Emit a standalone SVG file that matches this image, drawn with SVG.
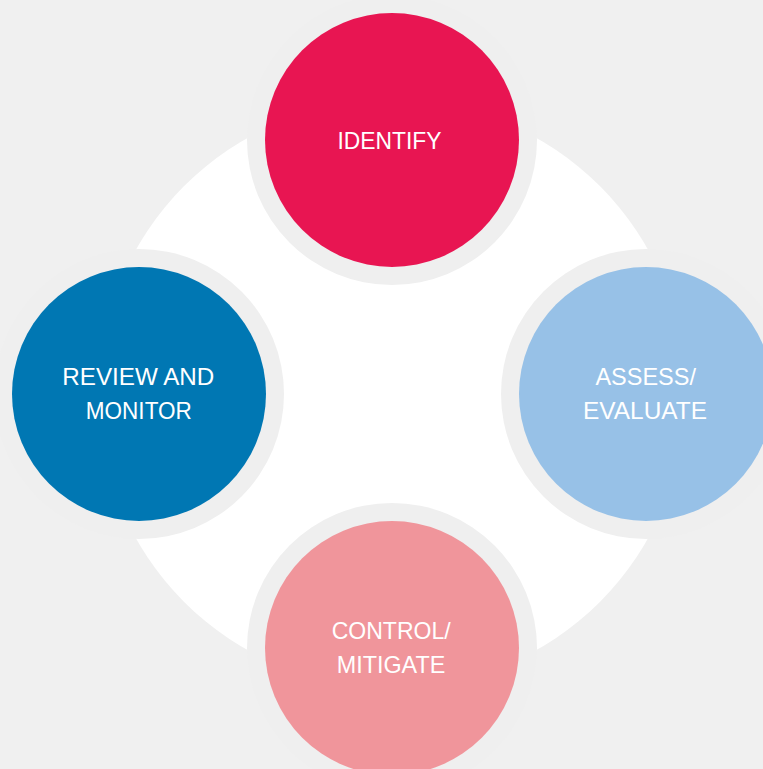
<svg xmlns="http://www.w3.org/2000/svg" width="763" height="769" viewBox="0 0 763 769">
<style>
.ring{fill:#efefef}
.lbl{font-family:"Liberation Sans",Arial,sans-serif;font-size:24px;fill:#ffffff;text-anchor:middle}
</style>
<rect x="0" y="0" width="763" height="769" fill="#f0f0f0"/>
<circle cx="392" cy="394" r="294" fill="#ffffff"/>
<g id="connectors"></g>
<g id="identify">
<circle class="ring" cx="392" cy="140" r="145"/>
<circle cx="392" cy="140" r="127" fill="#e81552"/>
<text class="lbl" x="389.5" y="148.7" textLength="104" lengthAdjust="spacingAndGlyphs">IDENTIFY</text>
</g>
<g id="review">
<circle class="ring" cx="139" cy="394" r="145"/>
<circle cx="139" cy="394" r="127" fill="#0077b3"/>
<text class="lbl" x="138.3" y="385" textLength="152" lengthAdjust="spacingAndGlyphs">REVIEW AND</text>
<text class="lbl" x="138.8" y="419" textLength="106" lengthAdjust="spacingAndGlyphs">MONITOR</text>
</g>
<g id="assess">
<circle class="ring" cx="646" cy="394" r="145"/>
<circle cx="646" cy="394" r="127" fill="#97c1e7"/>
<text class="lbl" x="645.7" y="385" textLength="100.5" lengthAdjust="spacingAndGlyphs">ASSESS/</text>
<text class="lbl" x="645" y="419" textLength="124" lengthAdjust="spacingAndGlyphs">EVALUATE</text>
</g>
<g id="control">
<circle class="ring" cx="392" cy="648" r="145"/>
<circle cx="392" cy="648" r="127" fill="#f0959b"/>
<text class="lbl" x="391.2" y="638.7" textLength="119" lengthAdjust="spacingAndGlyphs">CONTROL/</text>
<text class="lbl" x="391" y="673" textLength="108.5" lengthAdjust="spacingAndGlyphs">MITIGATE</text>
</g>
</svg>
